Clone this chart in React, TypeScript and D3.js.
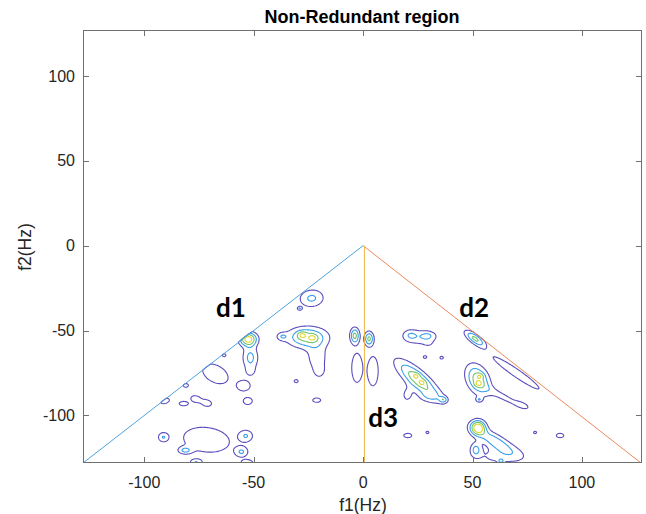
import React, { useMemo } from 'react';
import * as d3 from 'd3';

const WIDTH = 646;
const HEIGHT = 514;
const PLOT = { left: 83, right: 641, top: 30, bottom: 463 };

const xDomain: [number, number] = [-128, 127];
const yDomain: [number, number] = [-128, 127];
const xTicks = [-100, -50, 0, 50, 100];
const yTicks = [-100, -50, 0, 50, 100];

const contourLevels = [1, 2, 3, 4];
const levelColors = ['#5a4ebe', '#389fe8', '#70c46c', '#e0d72c'];

const titleText = 'Non-Redundant region';
const xLabelText = 'f1(Hz)';
const yLabelText = 'f2(Hz)';

// boundary lines of the non-redundant region (data coords)
const lineD1: [number, number][] = [[-128, -128], [0, 0]];
const lineD2: [number, number][] = [[0, 0], [127, -128]];
const lineD3: [number, number][] = [[0.6, 0], [0.6, -128]];
const boundaryColors = ['#4fa2dc', '#ea8a5e', '#f0b644'];

const regionLabels = [
  { text: 'd1', x: -67.2, y: -42.3 },
  { text: 'd2', x: 43.9, y: -42.3 },
  { text: 'd3', x: 2.3, y: -106.8 },
];

// spectral peaks: [f1, f2, spreadMajor, spreadMinor, angleDeg, level]
const peaksLeft: number[][] = [
  [-23.5, -31, 4.2, 3.8, 20, 2.2],
  [-29, -37, 0.8, 0.8, 0, 1.9],
  [-52.5, -55, 2.8, 2.8, 0, 4.5],
  [-51.5, -66, 2.6, 5, 0, 2.3],
  [-51.5, -74, 1.6, 2.2, 0, 1.15],
  [-54.5, -82.5, 2.5, 2.6, 0, 1.9],
  [-52.7, -91.5, 1.8, 1.8, 0, 1.9],
  [-25.5, -54, 6.5, 4.3, 0, 3.3],
  [-28, -52.6, 1.4, 1.4, 0, 1.5],
  [-23, -54.3, 1.4, 1.4, 0, 1.3],
  [-37, -53.5, 1.8, 1.6, 0, 1.5],
  [-21, -66, 3.5, 6, 0, 1.6],
  [-20, -74, 1.8, 2.8, 0, 1.2],
  [-30.6, -79.8, 0.8, 0.8, 0, 1.9],
  [-21.2, -91, 1.6, 1.1, 0, 1.9],
  [-63.5, -64.5, 0.7, 0.7, 0, 1.9],
  [-3.8, -53, 1.5, 3.3, 0, 3.3],
  [-2.8, -72, 2.1, 7.5, 0, 1.9],
  [-67.5, -75.5, 6, 4, -45, 1.9],
  [-81, -82.3, 1, 1, 0, 1.9],
  [-90.5, -91.5, 1.9, 1.2, 30, 1.9],
  [-82, -93, 1.8, 1.1, 0, 1.9],
  [-76.5, -90.3, 2, 1.6, -25, 1.9],
  [-71.5, -92.7, 2, 1.6, -25, 1.9],
  [-71.6, -114.3, 9.3, 6.3, -12, 1.9],
  [-91.3, -112.8, 1.8, 2.1, 0, 1.9],
  [-81.4, -120.6, 2.2, 1.5, 0, 1.9],
  [-76.3, -127.5, 2.1, 1.4, 0, 1.9],
  [-53.5, -112, 2.4, 2.6, 0, 1.9],
  [-55.5, -121.5, 2.2, 2.3, 0, 1.9],
  [-53, -127.8, 2.2, 1.4, 0, 1.9],
];

const peaksRight: number[][] = [
  [2.7, -54.8, 1.5, 2.95, 0, 3.2],
  [4.5, -74, 2.1, 7.5, 0, 1.9],
  [26, -54, 6, 3.5, 0, 1.6],
  [21.5, -52.5, 2.2, 2.2, 0, 1.1],
  [29.5, -53, 2.2, 1.6, 0, 1.1],
  [30, -58, 2, 2, 0, 0.5],
  [28.3, -65.6, 0.7, 0.7, 0, 1.9],
  [35.9, -66, 0.7, 0.7, 0, 1.9],
  [25, -79, 10, 3.2, -50, 3.6],
  [24.3, -76.5, 1.2, 1.2, 0, 0.95],
  [27, -80.7, 1.2, 1.2, 0, 0.95],
  [20, -88, 2.2, 4, 0, 1.15],
  [30, -89, 4, 2.5, 0, 1.0],
  [36.7, -90.7, 1.3, 1.3, 0, 2.0],
  [51.2, -54.8, 4.3, 1.7, -45, 3.2],
  [70, -75, 12.3, 1.8, -42, 1.9],
  [52.5, -79, 6.5, 3.5, -73, 3.5],
  [53.5, -76.8, 1.2, 1.2, 0, 1.1],
  [52.7, -81.3, 1.2, 1.2, 0, 1.1],
  [64, -89, 7, 1.8, -35, 1.3],
  [73, -94, 3, 1.5, -30, 1.2],
  [53, -90.7, 1.1, 1.1, 0, 1.6],
  [52.5, -107, 2.4, 3, 0, 4.4],
  [60, -115, 8, 2.8, -38, 2.6],
  [51.5, -120, 1.8, 3, 0, 2.1],
  [63, -124, 9, 4, 0, 1.3],
  [20.4, -111.8, 1.6, 1.1, 0, 1.9],
  [29.4, -110, 0.6, 0.6, 0, 1.9],
  [78.6, -110, 0.6, 0.6, 0, 1.9],
  [90, -111.8, 1.5, 1.1, 0, 1.9],
  [63, -126.8, 0.8, 0.8, 0, 1.9],
];

const GRID = { x0: -132, x1: 131, y0: -132, y1: 2, step: 0.5 };

function buildField() {
  const { x0, x1, y0, y1, step } = GRID;
  const nx = Math.round((x1 - x0) / step) + 1;
  const ny = Math.round((y1 - y0) / step) + 1;
  const values = new Float64Array(nx * ny);
  const all = peaksLeft.concat(peaksRight);
  for (const [cx, cy, sa, sb, ang, amp] of all) {
    const t = (ang * Math.PI) / 180;
    const c = Math.cos(t);
    const s = Math.sin(t);
    const R = 5 * Math.max(sa, sb);
    const i0 = Math.max(0, Math.floor((cx - R - x0) / step));
    const i1 = Math.min(nx - 1, Math.ceil((cx + R - x0) / step));
    const j0 = Math.max(0, Math.floor((cy - R - y0) / step));
    const j1 = Math.min(ny - 1, Math.ceil((cy + R - y0) / step));
    for (let j = j0; j <= j1; j++) {
      const dy = y0 + j * step - cy;
      for (let i = i0; i <= i1; i++) {
        const dx = x0 + i * step - cx;
        const u = dx * c + dy * s;
        const v = -dx * s + dy * c;
        values[j * nx + i] += amp * Math.exp(-0.5 * ((u * u) / (sa * sa) + (v * v) / (sb * sb)));
      }
    }
  }
  // keep only the non-redundant triangle
  const slope2 = (lineD2[1][1] - lineD2[0][1]) / (lineD2[1][0] - lineD2[0][0]);
  for (let j = 0; j < ny; j++) {
    const y = y0 + j * step;
    for (let i = 0; i < nx; i++) {
      const x = x0 + i * step;
      const inside = y <= 0 && y <= x && y <= slope2 * x;
      if (!inside) values[j * nx + i] = 0;
    }
  }
  return { values: Array.from(values), nx, ny };
}

export default function App() {
  const xScale = d3.scaleLinear().domain(xDomain).range([PLOT.left, PLOT.right]);
  const yScale = d3.scaleLinear().domain(yDomain).range([PLOT.bottom, PLOT.top]);

  const contourPaths = useMemo(() => {
    const { values, nx, ny } = buildField();
    const polys = d3.contours().size([nx, ny]).thresholds(contourLevels)(values);
    const { x0, y0, step } = GRID;
    const projection = d3.geoTransform({
      point(this: any, gx: number, gy: number) {
        this.stream.point(xScale(x0 + (gx - 0.5) * step), yScale(y0 + (gy - 0.5) * step));
      },
    });
    const path = d3.geoPath(projection as any);
    return polys.map((p, k) => ({ d: path(p as any) || '', color: levelColors[k] }));
  }, []);

  const line = d3
    .line<[number, number]>()
    .x((d) => xScale(d[0]))
    .y((d) => yScale(d[1]));

  const axisColor = '#262626';
  const frameColor = '#707070';
  const tickLen = 5.5;
  const fontFamily = "'Liberation Sans', Arial, Helvetica, sans-serif";
  const L = PLOT.left + 0.5;
  const R = PLOT.right + 0.5;
  const T = PLOT.top + 0.5;
  const B = PLOT.bottom - 0.5;

  return (
    <svg
      width={WIDTH}
      height={HEIGHT}
      viewBox={`0 0 ${WIDTH} ${HEIGHT}`}
      style={{ position: 'absolute', left: 0, top: 0, background: '#ffffff' }}
    >
      <defs>
        <clipPath id="plotClip">
          <rect x={PLOT.left} y={PLOT.top} width={PLOT.right - PLOT.left} height={PLOT.bottom - PLOT.top} />
        </clipPath>
      </defs>
      <rect x={0} y={0} width={WIDTH} height={HEIGHT} fill="#ffffff" />

      <g clipPath="url(#plotClip)">
        {contourPaths.map((c, k) => (
          <path key={k} d={c.d} fill="none" stroke={c.color} strokeWidth={1.1} strokeLinejoin="round" />
        ))}
        <path d={line(lineD1) || ''} fill="none" stroke={boundaryColors[0]} strokeWidth={1} />
        <path d={line(lineD2) || ''} fill="none" stroke={boundaryColors[1]} strokeWidth={1} />
        <path d={line(lineD3) || ''} fill="none" stroke={boundaryColors[2]} strokeWidth={1} />
      </g>

      {/* frame */}
      <rect x={L} y={T} width={R - L} height={B - T} fill="none" stroke={frameColor} strokeWidth={1} />

      {/* x ticks */}
      {xTicks.map((t) => {
        const x = Math.round(xScale(t)) + 0.5;
        return (
          <g key={`xt${t}`}>
            <line x1={x} x2={x} y1={B} y2={B - tickLen} stroke={frameColor} strokeWidth={1} />
            <line x1={x} x2={x} y1={T} y2={T + tickLen} stroke={frameColor} strokeWidth={1} />
            <text x={xScale(t)} y={487.5} textAnchor="middle" fontFamily={fontFamily} fontSize={16} fill={axisColor}>
              {t}
            </text>
          </g>
        );
      })}

      {/* y ticks */}
      {yTicks.map((t) => {
        const y = Math.round(yScale(t)) + 0.5;
        return (
          <g key={`yt${t}`}>
            <line x1={L} x2={L + tickLen} y1={y} y2={y} stroke={frameColor} strokeWidth={1} />
            <line x1={R} x2={R - tickLen} y1={y} y2={y} stroke={frameColor} strokeWidth={1} />
            <text x={75} y={yScale(t) + 5.7} textAnchor="end" fontFamily={fontFamily} fontSize={16} fill={axisColor}>
              {t}
            </text>
          </g>
        );
      })}

      {/* title and axis labels */}
      <text x={362} y={23} textAnchor="middle" fontFamily={fontFamily} fontSize={18} fontWeight="bold" fill="#000">
        {titleText}
      </text>
      <text x={363} y={511} textAnchor="middle" fontFamily={fontFamily} fontSize={17.5} fill={axisColor}>
        {xLabelText}
      </text>
      <text
        transform={`translate(30.5, 247) rotate(-90)`}
        textAnchor="middle"
        fontFamily={fontFamily}
        fontSize={17.5}
        fill={axisColor}
      >
        {yLabelText}
      </text>

      {/* region labels */}
      {regionLabels.map((l) => (
        <text
          key={l.text}
          x={xScale(l.x)}
          y={yScale(l.y)}
          fontFamily="Lato, 'Open Sans', sans-serif"
          fontWeight="bold"
          fontSize={26}
          fill="#000"
        >
          {l.text}
        </text>
      ))}
    </svg>
  );
}
